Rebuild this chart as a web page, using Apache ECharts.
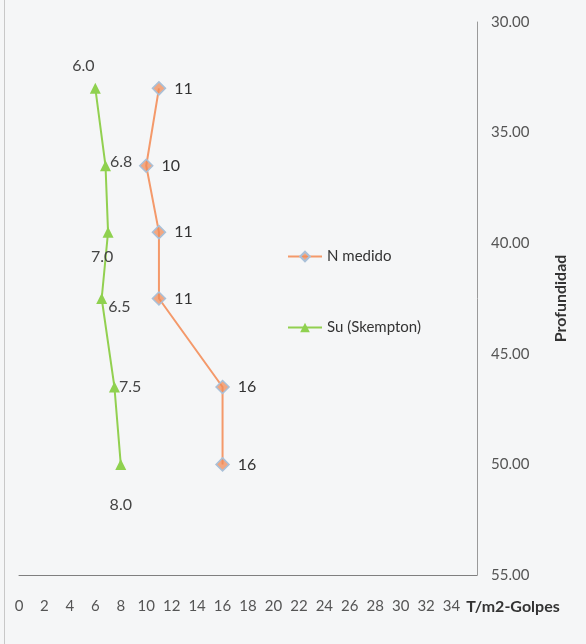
<!DOCTYPE html>
<html>
<head>
<meta charset="utf-8">
<script src="https://cdn.jsdelivr.net/npm/echarts@6/dist/echarts.min.js"></script>
<style>
  html, body { margin: 0; padding: 0; background: #f5f6f7; }
  #chart { width: 586px; height: 644px; }
</style>
</head>
<body>
<div id="chart"></div>
<script>
// Depth of each test (m)
const depths = [33, 36.5, 39.5, 42.5, 46.5, 50];
// Measured SPT blow counts
const nMedido = [11, 10, 11, 11, 16, 16];
// Undrained shear strength, Skempton (T/m2)
const suSkempton = [6.0, 6.8, 7.0, 6.5, 7.5, 8.0];
// Axis ticks
const depthTicks = [30, 35, 40, 45, 50, 55];
const xTicks = [0, 2, 4, 6, 8, 10, 12, 14, 16, 18, 20, 22, 24, 26, 28, 30, 32, 34];

const FONT = 'Lato, "Liberation Sans Narrow", sans-serif';

// label placement for the Su labels (style only)
const suLabelStyle = [
  { position: 'top', offset: [-12, -4] },
  { position: 'right', offset: [-6, -4] },
  { position: 'bottom', offset: [-6, 6] },
  { position: 'right', offset: [-4, 8] },
  { position: 'right', offset: [-6, 0] },
  { position: 'bottom', offset: [0, 22] }
];

const nData = nMedido.map((v, i) => [v, depths[i]]);
const suData = suSkempton.map((v, i) => ({
  value: [v, depths[i]],
  label: suLabelStyle[i]
}));

const chart = echarts.init(document.getElementById('chart'), null, { renderer: 'canvas' });
chart.setOption({
  backgroundColor: '#f5f6f7',
  animation: false,
  textStyle: { fontFamily: FONT },
  grid: { left: 19, right: 109, top: 22, bottom: 69, containLabel: false },
  legend: {
    orient: 'vertical',
    left: 282,
    top: 244,
    itemGap: 56,
    itemWidth: 34,
    itemHeight: 12,
    textStyle: { fontFamily: FONT, fontSize: 15, color: '#333' },
    data: ['N medido', 'Su (Skempton)']
  },
  xAxis: {
    type: 'value',
    min: 0,
    max: 36,
    interval: 2,
    name: 'T/m2-Golpes',
    nameLocation: 'end',
    nameGap: -18,
    nameTextStyle: {
      fontFamily: FONT, fontSize: 16, fontWeight: 'bold', color: '#333',
      verticalAlign: 'top', align: 'left', padding: [24, 0, 0, 0]
    },
    axisLine: { show: true, onZero: false, lineStyle: { color: '#7f7f7f', width: 1 } },
    axisTick: { show: false },
    splitLine: { show: false },
    axisLabel: {
      margin: 24,
      fontFamily: FONT, fontSize: 15, color: '#555',
      formatter: v => (xTicks.indexOf(v) >= 0 ? String(v) : '')
    }
  },
  yAxis: {
    type: 'value',
    position: 'right',
    inverse: true,
    min: depthTicks[0],
    max: depthTicks[depthTicks.length - 1],
    interval: 5,
    name: 'Profundidad',
    nameLocation: 'middle',
    nameRotate: 90,
    nameGap: 76,
    nameTextStyle: { fontFamily: FONT, fontSize: 16, fontWeight: 'bold', color: '#333' },
    axisLine: { show: true, onZero: false, lineStyle: { color: '#9a9a9a', width: 1 } },
    axisTick: { show: false },
    splitLine: { show: false },
    axisLabel: {
      margin: 14,
      fontFamily: FONT, fontSize: 15, color: '#555',
      formatter: v => v.toFixed(2)
    }
  },
  series: [
    {
      name: 'N medido',
      type: 'line',
      data: nData,
      symbol: 'diamond',
      symbolSize: 13,
      lineStyle: { color: '#f4996a', width: 2 },
      itemStyle: { color: 'rgba(240,140,90,0.75)', borderColor: '#a9c0d8', borderWidth: 1.5 },
      label: {
        show: true,
        position: 'right',
        distance: 8,
        fontFamily: FONT, fontSize: 16, color: '#333',
        formatter: p => String(p.value[0])
      },
      z: 3
    },
    {
      name: 'Su (Skempton)',
      type: 'line',
      data: suData,
      symbol: 'triangle',
      symbolSize: 11,
      lineStyle: { color: '#92d050', width: 2 },
      itemStyle: { color: '#8fd14f' },
      label: {
        show: true,
        fontFamily: FONT, fontSize: 16, color: '#444',
        formatter: p => p.value[0].toFixed(1)
      },
      z: 2
    }
  ],
  graphic: [
    {
      type: 'line',
      shape: { x1: 4.5, y1: 0, x2: 4.5, y2: 644 },
      style: { stroke: '#c8c8c8', lineWidth: 1 }
    }
  ]
});
</script>
</body>
</html>
